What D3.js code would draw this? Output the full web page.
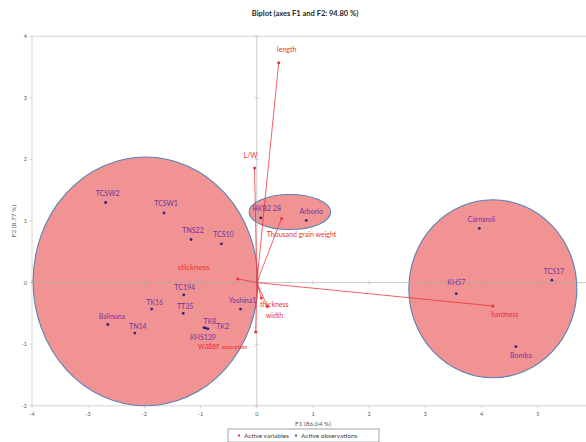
<!DOCTYPE html>
<html>
<head>
<meta charset="utf-8">
<script src="https://cdn.jsdelivr.net/npm/d3@7"></script>
<style>
  html, body { margin: 0; padding: 0; background: #ffffff; }
  svg { display: block; }
  text { font-family: Lato, "Open Sans", "Liberation Sans", sans-serif; }
</style>
</head>
<body>
<div id="chart"></div>
<script>
// PCA biplot: rice varieties (observations) and grain quality traits (variables)

const obsNames = ["TCSW2", "TCSW1", "TNS22", "TCS10", "TC194", "TK16", "TT35", "Balinuna", "TN14",
                  "TK8", "TK2", "KHS139", "Yoshina1", "HKB2 28", "Arborio", "Carnaroli", "TCS17", "KH57", "Bomba"];
const obsF1 = [-2.69, -1.65, -1.17, -0.63, -1.30, -1.87, -1.31, -2.65, -2.17,
               -0.94, -0.91, -0.87, -0.29, 0.07, 0.88, 3.96, 5.25, 3.55, 4.61];
const obsF2 = [1.30, 1.13, 0.70, 0.63, -0.20, -0.43, -0.50, -0.68, -0.82,
               -0.73, -0.74, -0.75, -0.43, 1.05, 1.01, 0.88, 0.04, -0.18, -1.04];

const varNames = ["length", "L/W", "Thousand grain weight", "stickness", "hardness", "thickness", "width", "water absorption"];
const varF1 = [0.39, -0.04, 0.44, -0.34, 4.20, 0.08, 0.19, -0.02];
const varF2 = [3.57, 1.86, 1.04, 0.06, -0.38, -0.25, -0.39, -0.80];

// cluster ellipses in factor-score units: centre F1, centre F2, half-width, half-height
const clusterCx = [-1.98, 0.59, 4.20];
const clusterCy = [0.02, 1.145, -0.10];
const clusterRx = [2.00, 0.725, 1.495];
const clusterRy = [2.02, 0.284, 1.445];

const xTicks = [-4, -3, -2, -1, 0, 1, 2, 3, 4, 5];
const yTicks = [-2, -1, 0, 1, 2, 3, 4];

const chartTitle = "Biplot (axes F1 and F2: 94.80 %)";
const xTitle = "F1 (86.04 %)";
const yTitle = "F2 (8.77 %)";
const legendLabels = ["Active variables", "Active observations"];

// label placement relative to each marker (pixels)
const obsLabelOffset = {
  "TK8": [6, -6], "TK2": [17, -2], "KHS139": [-5, 9], "Bomba": [5, 9],
  "KH57": [0, -11], "HKB2 28": [6, -9], "Arborio": [5, -9], "Balinuna": [4, -8],
  "TN14": [3, -7], "TK16": [3, -7], "TT35": [2, -7], "TC194": [1, -7]
};
const varLabelOffset = {
  "length": [8, -13], "L/W": [-4, -12], "Thousand grain weight": [20, 16],
  "stickness": [-44, -12], "hardness": [12, 9], "thickness": [13, 7],
  "width": [7, 9], "water absorption": [-33, 15]
};

const W = 586, H = 442;
const svg = d3.select("#chart").append("svg").attr("width", W).attr("height", H);

const x = d3.scaleLinear().domain([-4, 6]).range([32, 594]);
const y = d3.scaleLinear().domain([-2, 4]).range([405.8, 36.2]);

const gridColor = "#d4d4d4";
const axisText = "#595959";
const red = "#ee2f35";
const purple = "#6f35a0";
const navy = "#33237f";

// title
svg.append("text")
  .attr("x", 305).attr("y", 16)
  .attr("text-anchor", "middle")
  .attr("font-size", 7.5).attr("font-weight", "bold")
  .attr("fill", "#262626")
  .text(chartTitle);

// plot frame
svg.append("rect")
  .attr("x", x(-4)).attr("y", y(4))
  .attr("width", x(6) - x(-4)).attr("height", y(-2) - y(4))
  .attr("fill", "none").attr("stroke", gridColor).attr("stroke-width", 1);

// tick labels
svg.append("g").selectAll("text").data(xTicks).join("text")
  .attr("x", d => x(d)).attr("y", 415.5)
  .attr("text-anchor", "middle").attr("font-size", 5.5).attr("fill", axisText)
  .text(d => d);
svg.append("g").selectAll("line").data(xTicks).join("line")
  .attr("x1", d => x(d)).attr("x2", d => x(d))
  .attr("y1", y(-2)).attr("y2", y(-2) + 2.5)
  .attr("stroke", gridColor);
svg.append("g").selectAll("text").data(yTicks).join("text")
  .attr("x", 27).attr("y", d => y(d) + 2)
  .attr("text-anchor", "end").attr("font-size", 5.5).attr("fill", axisText)
  .text(d => d);
svg.append("g").selectAll("line").data(yTicks).join("line")
  .attr("x1", x(-4) - 2.5).attr("x2", x(-4))
  .attr("y1", d => y(d)).attr("y2", d => y(d))
  .attr("stroke", gridColor);

// axis titles
svg.append("text")
  .attr("x", 313).attr("y", 426)
  .attr("text-anchor", "middle").attr("font-size", 6.5).attr("fill", axisText)
  .text(xTitle);
svg.append("text")
  .attr("transform", `translate(16,${(y(4) + y(-2)) / 2}) rotate(-90)`)
  .attr("text-anchor", "middle").attr("font-size", 6.5).attr("fill", axisText)
  .text(yTitle);

// cluster ellipses
const clusters = clusterCx.map((cx, i) => ({ cx, cy: clusterCy[i], rx: clusterRx[i], ry: clusterRy[i] }));
svg.append("g").selectAll("ellipse").data(clusters).join("ellipse")
  .attr("cx", d => x(d.cx)).attr("cy", d => y(d.cy))
  .attr("rx", d => x(d.rx) - x(0)).attr("ry", d => y(0) - y(d.ry))
  .attr("fill", "#f29393").attr("stroke", "#5a82b4").attr("stroke-width", 1.1);

// zero lines with small tick marks
const zero = svg.append("g").attr("stroke", "#a8a8a8").attr("stroke-opacity", 0.75).attr("stroke-width", 0.8);
zero.append("line").attr("x1", x(-4)).attr("x2", x(6)).attr("y1", y(0)).attr("y2", y(0));
zero.append("line").attr("x1", x(0)).attr("x2", x(0)).attr("y1", y(4)).attr("y2", y(-2));
zero.selectAll(".ty").data(yTicks).join("line")
  .attr("x1", x(0) - 2).attr("x2", x(0) + 2)
  .attr("y1", d => y(d)).attr("y2", d => y(d));
zero.selectAll(".tx").data(xTicks).join("line")
  .attr("x1", d => x(d)).attr("x2", d => x(d))
  .attr("y1", y(0) - 2).attr("y2", y(0) + 2);

// variable vectors
const vars = varNames.map((name, i) => ({ name, f1: varF1[i], f2: varF2[i] }));
svg.append("g").selectAll("line").data(vars).join("line")
  .attr("x1", x(0)).attr("y1", y(0))
  .attr("x2", d => x(d.f1)).attr("y2", d => y(d.f2))
  .attr("stroke", red).attr("stroke-opacity", 0.85).attr("stroke-width", 0.9);
svg.append("g").selectAll("circle").data(vars).join("circle")
  .attr("cx", d => x(d.f1)).attr("cy", d => y(d.f2)).attr("r", 1.5)
  .attr("fill", red);

// observations
const obs = obsNames.map((name, i) => ({ name, f1: obsF1[i], f2: obsF2[i] }));
svg.append("g").selectAll("circle").data(obs).join("circle")
  .attr("cx", d => x(d.f1)).attr("cy", d => y(d.f2)).attr("r", 1.4)
  .attr("fill", navy);
svg.append("g").selectAll("text").data(obs).join("text")
  .attr("x", d => x(d.f1) + (obsLabelOffset[d.name] || [2, -9])[0])
  .attr("y", d => y(d.f2) + (obsLabelOffset[d.name] || [2, -9])[1])
  .attr("dy", "0.35em")
  .attr("text-anchor", "middle").attr("font-size", 7).attr("fill", purple)
  .text(d => d.name);

// variable labels
const vLabels = svg.append("g").selectAll("text").data(vars).join("text")
  .attr("x", d => x(d.f1) + varLabelOffset[d.name][0])
  .attr("y", d => y(d.f2) + varLabelOffset[d.name][1])
  .attr("dy", "0.35em")
  .attr("text-anchor", "middle").attr("fill", red)
  .attr("font-size", d => d.name === "stickness" ? 8 : 7);
vLabels.each(function (d) {
  const t = d3.select(this);
  if (d.name === "water absorption") {
    const parts = d.name.split(" ");
    t.append("tspan").attr("font-size", 8.5).text(parts[0] + " ");
    t.append("tspan").attr("font-size", 5.5).text(parts[1]);
  } else {
    t.text(d.name);
  }
});

// legend
const lg = svg.append("g");
lg.append("rect")
  .attr("x", 228).attr("y", 429).attr("width", 151).attr("height", 13)
  .attr("fill", "#ffffff").attr("stroke", "#8c8c8c").attr("stroke-width", 0.8);
const legendColors = [red, "#3b5bb5"];
const legendX = [239, 296];
legendLabels.forEach((lab, i) => {
  lg.append("rect").attr("x", legendX[i] - 1).attr("y", 434.5).attr("width", 2).attr("height", 2)
    .attr("fill", legendColors[i]);
  lg.append("text").attr("x", legendX[i] + 5).attr("y", 437.8)
    .attr("font-size", 6.5).attr("fill", "#404040").text(lab);
});
</script>
</body>
</html>
